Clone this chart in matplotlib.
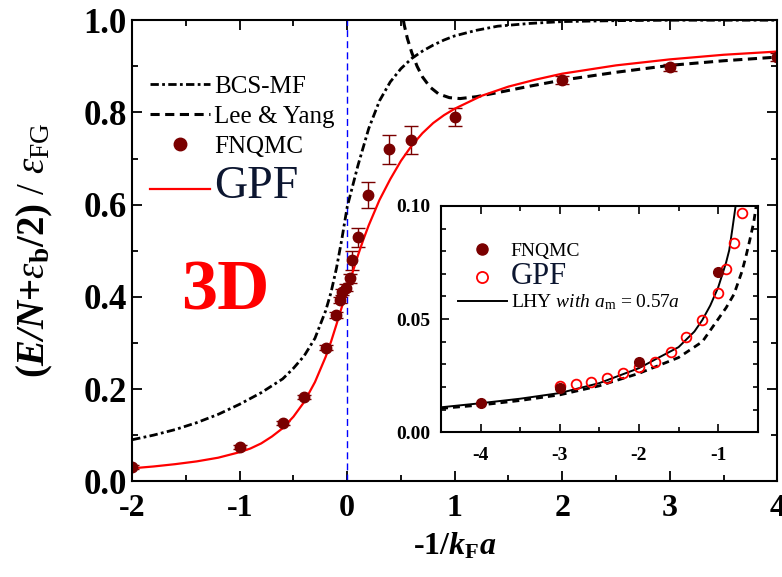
import matplotlib
matplotlib.use('Agg')
import matplotlib.pyplot as plt
from matplotlib.lines import Line2D
from matplotlib.ticker import MultipleLocator, FormatStrFormatter

plt.rcParams['font.family'] = ['Liberation Serif', 'DejaVu Serif']
plt.rcParams['axes.unicode_minus'] = False
plt.rcParams['mathtext.fontset'] = 'custom'
plt.rcParams['mathtext.rm'] = 'Liberation Serif'
plt.rcParams['mathtext.it'] = 'Liberation Serif:italic'
plt.rcParams['mathtext.bf'] = 'Liberation Serif:bold'
plt.rcParams['mathtext.bfit'] = 'Liberation Serif:bold:italic'

# ---- main panel data
x_gpf = [-2, -1.8, -1.6, -1.4, -1.2, -1.0, -0.9, -0.8, -0.7, -0.6, -0.5, -0.4, -0.3, -0.2, -0.15, -0.1, -0.05, 0.0,
         0.05, 0.1, 0.15, 0.2, 0.3, 0.4, 0.5, 0.6, 0.7, 0.8, 0.9, 1.0, 1.25, 1.5, 1.75, 2.0, 2.5, 3.0, 3.5, 4.0]
y_gpf = [0.028, 0.032, 0.037, 0.043, 0.051, 0.063, 0.071, 0.082, 0.097, 0.115, 0.14, 0.172, 0.215, 0.27, 0.303, 0.34, 0.378, 0.415,
         0.453, 0.49, 0.524, 0.555, 0.61, 0.655, 0.695, 0.728, 0.755, 0.777, 0.794, 0.808, 0.836, 0.856, 0.871, 0.884, 0.902, 0.915, 0.925, 0.932]

x_bcs = [-2, -1.8, -1.6, -1.4, -1.2, -1.0, -0.8, -0.6, -0.5, -0.4, -0.3, -0.2, -0.15, -0.1, -0.05, 0.0,
         0.05, 0.1, 0.15, 0.2, 0.3, 0.4, 0.5, 0.6, 0.7, 0.8, 0.9, 1.0, 1.2, 1.4, 1.7, 2.0, 2.5, 3.0, 4.0]
y_bcs = [0.09, 0.1, 0.112, 0.127, 0.145, 0.167, 0.192, 0.222, 0.245, 0.272, 0.31, 0.37, 0.41, 0.462, 0.525, 0.595,
         0.64, 0.685, 0.725, 0.765, 0.825, 0.866, 0.895, 0.917, 0.933, 0.946, 0.957, 0.966, 0.978, 0.987, 0.993, 0.997, 0.999, 1.0, 1.0]

x_ly = [0.5, 0.53, 0.56, 0.6, 0.65, 0.7, 0.77, 0.85, 0.95, 1.05, 1.2, 1.4, 1.7, 2.0, 2.5, 3.0, 3.5, 4.0]
y_ly = [1.03, 0.99, 0.96, 0.93, 0.9, 0.877, 0.855, 0.84, 0.832, 0.83, 0.834, 0.843, 0.857, 0.87, 0.887, 0.902, 0.912, 0.92]

x_qmc = [-2, -1, -0.6, -0.4, -0.2, -0.105, -0.07, -0.048, -0.008, 0.023, 0.045, 0.098, 0.19, 0.39, 0.59, 1.0, 2.0, 3.0, 4.0]
y_qmc = [0.031, 0.074, 0.126, 0.182, 0.29, 0.36, 0.393, 0.411, 0.42, 0.44, 0.479, 0.529, 0.62, 0.72, 0.74, 0.79, 0.87, 0.898, 0.92]
e_qmc = [0.004, 0.004, 0.004, 0.004, 0.006, 0.006, 0.006, 0.006, 0.008, 0.01, 0.02, 0.02, 0.028, 0.031, 0.03, 0.019, 0.008, 0.008, 0.008]

# ---- inset data
xi_qmc = [-4, -3, -2, -1]
yi_qmc = [0.0128, 0.0195, 0.031, 0.0708]
ei_qmc = [0.001, 0.001, 0.0012, 0.0015]

xi_gpf = [-3.0, -2.8, -2.6, -2.4, -2.2, -2.0, -1.8, -1.6, -1.4, -1.2, -1.0, -0.9, -0.8, -0.7]
yi_gpf = [0.0204, 0.0212, 0.0221, 0.0239, 0.026, 0.0289, 0.031, 0.0354, 0.042, 0.0496, 0.0615, 0.072, 0.0836, 0.0969]

xi_lhy = [-4.5, -4.0, -3.5, -3.0, -2.5, -2.0, -1.75, -1.5, -1.3, -1.2, -1.1, -1.0, -0.9, -0.86, -0.82, -0.78]
yi_lhy = [0.011, 0.0128, 0.0148, 0.0173, 0.0217, 0.0283, 0.033, 0.0376, 0.0445, 0.0496, 0.056, 0.064, 0.075, 0.0805, 0.09, 0.1]

xi_dash = [-4.5, -4.0, -3.5, -3.0, -2.5, -2.0, -1.5, -1.2, -1.0, -0.9, -0.8, -0.7, -0.65, -0.6, -0.55, -0.52]
yi_dash = [0.0105, 0.012, 0.014, 0.0165, 0.0205, 0.026, 0.033, 0.040, 0.050, 0.055, 0.061, 0.071, 0.0776, 0.085, 0.093, 0.1]

maroon = '#7a0000'

fig = plt.figure(figsize=(7.82, 5.77), dpi=100)
ax = fig.add_axes([0.169, 0.166, 0.825, 0.799])

ax.axvline(0, color='blue', lw=1, ls=(0, (5, 3)))
l_bcs, = ax.plot(x_bcs, y_bcs, color='k', lw=2, ls=(0, (3, 1.2, 1, 1.2)), label='BCS-MF')
l_ly, = ax.plot(x_ly, y_ly, color='k', lw=2.2, ls=(0, (3, 1.8)), label='Lee & Yang')
ax.errorbar(x_qmc, y_qmc, yerr=e_qmc, fmt='o', color=maroon, ms=7.5, capsize=5, elinewidth=1, capthick=1)
l_gpf, = ax.plot(x_gpf, y_gpf, color='red', lw=1.6, label='GPF')
h_qmc = Line2D([], [], ls='none', marker='o', color=maroon, ms=9)

ax.text(-1.13, 0.41, '3D', color='red', fontsize=52, fontweight='bold', ha='center', va='center')

ax.set_xlim(-2, 4)
ax.set_ylim(0, 1)
ax.xaxis.set_major_locator(MultipleLocator(1))
ax.xaxis.set_minor_locator(MultipleLocator(0.5))
ax.yaxis.set_major_locator(MultipleLocator(0.2))
ax.yaxis.set_minor_locator(MultipleLocator(0.1))
ax.yaxis.set_major_formatter(FormatStrFormatter('%.1f'))
ax.tick_params(which='both', direction='in', top=True, right=True, width=1.3)
ax.tick_params(which='major', length=7)
ax.tick_params(which='minor', length=4)
ax.tick_params(axis='x', labelsize=23, pad=9)
ax.tick_params(axis='y', labelsize=25, pad=4)
for t in ax.get_xticklabels() + ax.get_yticklabels():
    t.set_fontweight('bold')
for s in ax.spines.values():
    s.set_linewidth(1.5)

ax.set_xlabel(r'-1/$\mathbfit{k}_{\mathbf{F}}\mathbfit{a}$', fontsize=23, fontweight='bold', labelpad=6)
ax.set_ylabel(r'$\mathbf{(}\mathbfit{E/N}\mathbf{+}\varepsilon_{\mathbf{b}}\mathbf{/2)}\ /\ \varepsilon_{\mathrm{FG}}$',
              fontsize=28, labelpad=20)

leg = ax.legend([l_bcs, l_ly, h_qmc, l_gpf], ['BCS-MF', 'Lee & Yang', 'FNQMC', 'GPF'],
                loc='upper left', bbox_to_anchor=(0.028, 0.88), frameon=False, fontsize=18,
                handlelength=2.4, handletextpad=0.15, labelspacing=0.3, borderpad=0, borderaxespad=0)
leg.get_texts()[3].set_fontsize(33)
leg.get_texts()[3].set_color('#0c1630')

# ---- inset
ins = fig.add_axes([0.564, 0.251, 0.405, 0.392])
ins.plot(xi_dash, yi_dash, color='k', lw=2, ls=(0, (2.5, 1.8)))
l_lhy, = ins.plot(xi_lhy, yi_lhy, color='k', lw=1.4)
ins.plot(xi_gpf, yi_gpf, 'o', mfc='none', mec='red', ms=7, mew=1.3)
ins.errorbar(xi_qmc, yi_qmc, yerr=ei_qmc, fmt='o', color=maroon, ms=7, capsize=3, elinewidth=1)
hi_qmc = Line2D([], [], ls='none', marker='o', color=maroon, ms=8)
hi_gpf = Line2D([], [], ls='none', marker='o', mfc='none', mec='red', ms=8, mew=1.3)

ins.set_xlim(-4.5, -0.5)
ins.set_ylim(0, 0.1)
ins.xaxis.set_major_locator(MultipleLocator(1))
ins.xaxis.set_minor_locator(MultipleLocator(0.5))
ins.yaxis.set_major_locator(MultipleLocator(0.05))
ins.yaxis.set_minor_locator(MultipleLocator(0.01))
ins.yaxis.set_major_formatter(FormatStrFormatter('%.2f'))
ins.tick_params(which='both', direction='in', top=True, right=True, width=1.2, labelsize=14)
ins.tick_params(axis='x', pad=11)
ins.tick_params(axis='y', pad=8)
ins.tick_params(which='major', length=6)
ins.tick_params(which='minor', length=3.5)
for t in ins.get_xticklabels() + ins.get_yticklabels():
    t.set_fontweight('bold')
for s in ins.spines.values():
    s.set_linewidth(1.5)

leg2 = ins.legend([hi_qmc, hi_gpf, l_lhy], ['FNQMC', 'GPF', r'LHY $\mathit{with}$ $\mathit{a}_{\mathrm{m}}$ = 0.57$\mathit{a}$'],
                  loc='upper left', bbox_to_anchor=(0.054, 0.84), frameon=False, fontsize=14,
                  handlelength=2.5, handletextpad=0.2, labelspacing=0.1, borderpad=0, borderaxespad=0)
leg2.get_texts()[1].set_fontsize(22)
leg2.get_texts()[1].set_color('#0c1630')

fig.savefig('out.png', dpi=100)
